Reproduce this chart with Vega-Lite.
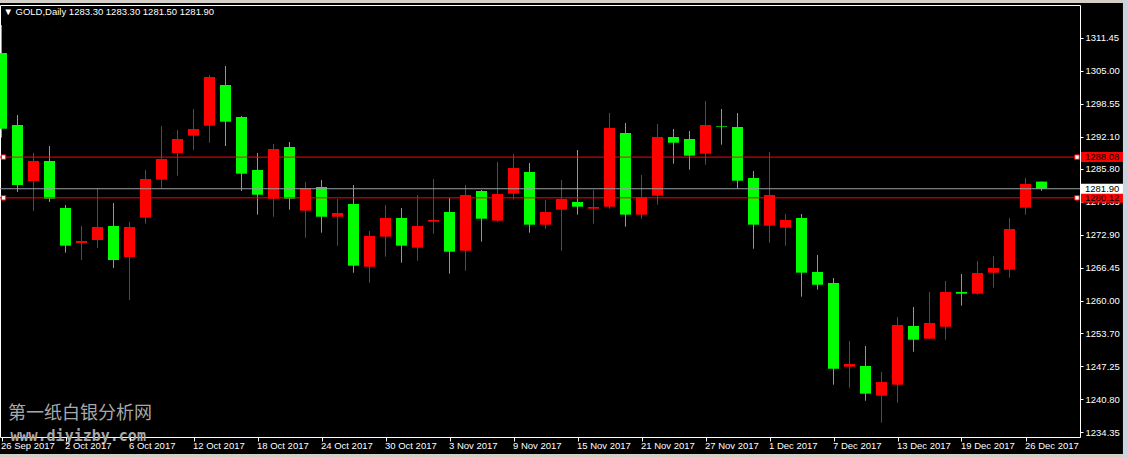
{
  "$schema": "https://vega.github.io/schema/vega-lite/v6.json",
  "width": 1080,
  "height": 432,
  "autosize": {"type": "none"},
  "padding": {"left": 0, "top": 5, "right": 48, "bottom": 20},
  "background": "#000000",
  "config": {
    "view": {"stroke": "#ffffff", "strokeWidth": 1, "fill": "#000000"},
    "font": "Liberation Sans",
    "scale": {"continuousPadding": 0},
    "axis": {"title": null, "grid": false, "domain": false}
  },
  "datasets": {
    "candles": [
      {"i": 0, "date": "2017-09-26", "open": 1308.43, "high": 1313.9, "low": 1291.87, "close": 1293.63},
      {"i": 1, "date": "2017-09-27", "open": 1294.36, "high": 1296.31, "low": 1281.26, "close": 1282.63},
      {"i": 2, "date": "2017-09-28", "open": 1283.41, "high": 1288.89, "low": 1277.55, "close": 1287.32},
      {"i": 3, "date": "2017-09-29", "open": 1287.32, "high": 1290.25, "low": 1279.31, "close": 1279.95},
      {"i": 4, "date": "2017-10-02", "open": 1278.14, "high": 1278.72, "low": 1269.40, "close": 1270.77},
      {"i": 5, "date": "2017-10-03", "open": 1271.29, "high": 1274.62, "low": 1267.97, "close": 1271.69},
      {"i": 6, "date": "2017-10-04", "open": 1271.88, "high": 1282.04, "low": 1270.32, "close": 1274.42},
      {"i": 7, "date": "2017-10-05", "open": 1274.62, "high": 1279.11, "low": 1266.41, "close": 1267.97},
      {"i": 8, "date": "2017-10-06", "open": 1268.56, "high": 1275.40, "low": 1260.15, "close": 1274.42},
      {"i": 9, "date": "2017-10-09", "open": 1276.24, "high": 1285.56, "low": 1275.07, "close": 1283.80},
      {"i": 10, "date": "2017-10-10", "open": 1283.67, "high": 1294.16, "low": 1281.91, "close": 1287.71},
      {"i": 11, "date": "2017-10-11", "open": 1288.89, "high": 1293.38, "low": 1284.45, "close": 1291.62},
      {"i": 12, "date": "2017-10-12", "open": 1292.27, "high": 1297.49, "low": 1289.47, "close": 1293.58},
      {"i": 13, "date": "2017-10-13", "open": 1294.22, "high": 1304.13, "low": 1290.90, "close": 1303.74},
      {"i": 14, "date": "2017-10-16", "open": 1302.18, "high": 1305.89, "low": 1290.25, "close": 1295.00},
      {"i": 15, "date": "2017-10-17", "open": 1295.92, "high": 1296.12, "low": 1281.46, "close": 1284.84},
      {"i": 16, "date": "2017-10-18", "open": 1285.56, "high": 1288.89, "low": 1276.83, "close": 1280.73},
      {"i": 17, "date": "2017-10-19", "open": 1279.95, "high": 1290.65, "low": 1276.43, "close": 1289.67},
      {"i": 18, "date": "2017-10-20", "open": 1290.06, "high": 1291.04, "low": 1277.80, "close": 1279.95},
      {"i": 19, "date": "2017-10-23", "open": 1277.61, "high": 1283.22, "low": 1272.33, "close": 1282.04},
      {"i": 20, "date": "2017-10-24", "open": 1282.24, "high": 1283.61, "low": 1273.31, "close": 1276.43},
      {"i": 21, "date": "2017-10-25", "open": 1276.43, "high": 1279.89, "low": 1270.77, "close": 1277.16},
      {"i": 22, "date": "2017-10-26", "open": 1278.92, "high": 1282.63, "low": 1265.49, "close": 1266.86},
      {"i": 23, "date": "2017-10-27", "open": 1266.66, "high": 1273.64, "low": 1263.53, "close": 1272.66},
      {"i": 24, "date": "2017-10-30", "open": 1272.53, "high": 1278.72, "low": 1268.62, "close": 1276.18},
      {"i": 25, "date": "2017-10-31", "open": 1276.18, "high": 1278.14, "low": 1267.44, "close": 1270.77},
      {"i": 26, "date": "2017-11-01", "open": 1270.38, "high": 1280.68, "low": 1267.83, "close": 1274.62},
      {"i": 27, "date": "2017-11-02", "open": 1275.46, "high": 1283.80, "low": 1273.11, "close": 1275.79},
      {"i": 28, "date": "2017-11-03", "open": 1277.35, "high": 1280.09, "low": 1265.29, "close": 1269.59},
      {"i": 29, "date": "2017-11-06", "open": 1269.79, "high": 1282.63, "low": 1265.88, "close": 1280.68},
      {"i": 30, "date": "2017-11-07", "open": 1281.46, "high": 1281.65, "low": 1271.55, "close": 1276.04},
      {"i": 31, "date": "2017-11-08", "open": 1275.65, "high": 1287.13, "low": 1275.46, "close": 1280.87},
      {"i": 32, "date": "2017-11-09", "open": 1280.93, "high": 1288.69, "low": 1279.76, "close": 1285.95},
      {"i": 33, "date": "2017-11-10", "open": 1285.17, "high": 1286.93, "low": 1273.31, "close": 1274.87},
      {"i": 34, "date": "2017-11-13", "open": 1274.87, "high": 1279.70, "low": 1274.09, "close": 1277.35},
      {"i": 35, "date": "2017-11-14", "open": 1277.80, "high": 1283.61, "low": 1269.79, "close": 1279.89},
      {"i": 36, "date": "2017-11-15", "open": 1279.31, "high": 1289.47, "low": 1276.83, "close": 1278.39},
      {"i": 37, "date": "2017-11-16", "open": 1278.00, "high": 1281.65, "low": 1275.07, "close": 1278.33},
      {"i": 38, "date": "2017-11-17", "open": 1278.39, "high": 1296.70, "low": 1278.00, "close": 1293.77},
      {"i": 39, "date": "2017-11-20", "open": 1292.80, "high": 1294.75, "low": 1274.48, "close": 1276.83},
      {"i": 40, "date": "2017-11-21", "open": 1276.83, "high": 1284.59, "low": 1276.04, "close": 1280.29},
      {"i": 41, "date": "2017-11-22", "open": 1280.54, "high": 1294.55, "low": 1278.78, "close": 1292.01},
      {"i": 42, "date": "2017-11-23", "open": 1292.01, "high": 1293.58, "low": 1286.80, "close": 1290.90},
      {"i": 43, "date": "2017-11-24", "open": 1291.62, "high": 1293.19, "low": 1285.62, "close": 1288.36},
      {"i": 44, "date": "2017-11-27", "open": 1288.75, "high": 1299.05, "low": 1286.60, "close": 1294.36},
      {"i": 45, "date": "2017-11-28", "open": 1294.16, "high": 1297.49, "low": 1290.51, "close": 1294.03},
      {"i": 46, "date": "2017-11-29", "open": 1293.97, "high": 1296.70, "low": 1281.91, "close": 1283.47},
      {"i": 47, "date": "2017-11-30", "open": 1284.00, "high": 1285.37, "low": 1270.18, "close": 1274.87},
      {"i": 48, "date": "2017-12-01", "open": 1274.68, "high": 1289.08, "low": 1271.35, "close": 1280.68},
      {"i": 49, "date": "2017-12-04", "open": 1274.28, "high": 1276.96, "low": 1270.77, "close": 1275.79},
      {"i": 50, "date": "2017-12-05", "open": 1276.18, "high": 1276.96, "low": 1260.80, "close": 1265.49},
      {"i": 51, "date": "2017-12-06", "open": 1265.63, "high": 1268.95, "low": 1262.17, "close": 1263.14},
      {"i": 52, "date": "2017-12-07", "open": 1263.47, "high": 1264.45, "low": 1243.60, "close": 1246.72},
      {"i": 53, "date": "2017-12-08", "open": 1247.11, "high": 1252.14, "low": 1243.01, "close": 1247.64},
      {"i": 54, "date": "2017-12-11", "open": 1247.25, "high": 1251.16, "low": 1240.47, "close": 1241.84},
      {"i": 55, "date": "2017-12-12", "open": 1241.45, "high": 1246.08, "low": 1236.20, "close": 1244.12},
      {"i": 56, "date": "2017-12-13", "open": 1243.60, "high": 1256.83, "low": 1240.08, "close": 1255.27},
      {"i": 57, "date": "2017-12-14", "open": 1255.07, "high": 1258.78, "low": 1250.05, "close": 1252.39},
      {"i": 58, "date": "2017-12-15", "open": 1252.59, "high": 1261.72, "low": 1252.53, "close": 1255.66},
      {"i": 59, "date": "2017-12-18", "open": 1254.93, "high": 1263.87, "low": 1252.39, "close": 1261.72},
      {"i": 60, "date": "2017-12-19", "open": 1261.72, "high": 1265.23, "low": 1259.04, "close": 1261.38},
      {"i": 61, "date": "2017-12-20", "open": 1261.38, "high": 1267.78, "low": 1261.19, "close": 1265.43},
      {"i": 62, "date": "2017-12-21", "open": 1265.49, "high": 1268.75, "low": 1262.56, "close": 1266.41},
      {"i": 63, "date": "2017-12-22", "open": 1266.07, "high": 1276.18, "low": 1264.51, "close": 1274.03},
      {"i": 64, "date": "2017-12-26", "open": 1278.19, "high": 1284.00, "low": 1276.83, "close": 1282.83},
      {"i": 65, "date": "2017-12-27", "open": 1283.30, "high": 1283.30, "low": 1281.50, "close": 1281.90}
    ],
    "levels": [
      {"price": 1288.08, "type": "line", "label": "1288.08"},
      {"price": 1280.12, "type": "line", "label": "1280.12"},
      {"price": 1281.90, "type": "bid", "label": "1281.90"}
    ],
    "captions": [
      {"text": "▼ GOLD,Daily  1283.30 1283.30 1281.50 1281.90"}
    ],
    "chrome": [
      {"part": "top", "x0": -0.2, "x1": 70.5, "y0": 1318.9, "y1": 1318.2},
      {"part": "bottom", "x0": -0.2, "x1": 70.5, "y0": 1230.05, "y1": 1229.3},
      {"part": "right", "x0": 70.09, "x1": 70.5, "y0": 1318.9, "y1": 1229.3}
    ]
  },
  "layer": [
    {
      "data": {"name": "candles"},
      "mark": {"type": "rule", "strokeWidth": 1},
      "encoding": {
        "x": {
          "field": "i", "type": "quantitative",
          "scale": {"domain": [-0.09375, 67.40625], "nice": false, "zero": false, "padding": 0},
          "axis": {
            "orient": "bottom", "title": null, "grid": false, "domain": false,
            "values": [0, 4, 8, 12, 16, 20, 24, 28, 32, 36, 40, 44, 48, 52, 56, 60, 64],
            "tickCount": 40,
            "labelExpr": "['26 Sep 2017','2 Oct 2017','6 Oct 2017','12 Oct 2017','18 Oct 2017','24 Oct 2017','30 Oct 2017','3 Nov 2017','9 Nov 2017','15 Nov 2017','21 Nov 2017','27 Nov 2017','1 Dec 2017','7 Dec 2017','13 Dec 2017','19 Dec 2017','26 Dec 2017'][round(datum.value/4)]",
            "labelAlign": "left", "labelBaseline": "top", "labelPadding": -1, "labelOffset": -1,
            "labelColor": "#ffffff", "labelFont": "Liberation Sans", "labelFontSize": 9.5,
            "labelFlush": false, "labelOverlap": false, "labelBound": false,
            "tickColor": "#ffffff", "tickSize": 4, "tickWidth": 1, "zindex": 1
          }
        },
        "y": {
          "field": "low", "type": "quantitative",
          "scale": {"domain": [1233.373, 1317.814], "nice": false, "zero": false},
          "axis": {
            "orient": "right", "title": null, "grid": false, "domain": false,
            "values": [1234.35, 1240.80, 1247.25, 1253.70, 1260.00, 1266.45, 1272.90, 1279.35, 1285.80, 1292.10, 1298.55, 1305.00, 1311.45],
            "tickCount": 40,
            "format": ".2f", "labelColor": "#ffffff", "labelFont": "Liberation Sans", "labelFontSize": 9.5,
            "labelPadding": 2, "labelBaseline": "middle", "labelFlush": false, "labelOverlap": false,
            "tickColor": "#ffffff", "tickSize": 3, "tickWidth": 1, "zindex": 0
          }
        },
        "y2": {"field": "high"},
        "color": {"condition": {"test": "datum.close >= datum.open", "value": "#ff0000"}, "value": "#00ff00"}
      }
    },
    {
      "data": {"name": "candles"},
      "mark": {"type": "bar", "width": 11},
      "encoding": {
        "x": {"field": "i", "type": "quantitative", "scale": {"domain": [-0.09375, 67.40625], "nice": false, "zero": false, "padding": 0}},
        "y": {"field": "open", "type": "quantitative", "scale": {"domain": [1233.373, 1317.814], "nice": false, "zero": false}},
        "y2": {"field": "close"},
        "color": {"condition": {"test": "datum.close >= datum.open", "value": "#ff0000"}, "value": "#00ff00"}
      }
    },
    {
      "data": {"name": "levels"},
      "mark": {"type": "rule", "strokeWidth": 1},
      "encoding": {
        "y": {"field": "price", "type": "quantitative", "scale": {"domain": [1233.373, 1317.814], "nice": false, "zero": false}},
        "color": {"condition": {"test": "datum.type == 'bid'", "value": "#9aa0a6"}, "value": "#ff0000"}
      }
    },
    {
      "data": {"name": "levels"},
      "mark": {"type": "tick", "orient": "horizontal", "size": 42, "thickness": 10, "opacity": 1},
      "encoding": {
        "x": {"datum": 68.78, "type": "quantitative", "scale": {"domain": [-0.09375, 67.40625], "nice": false, "zero": false, "padding": 0}},
        "y": {"field": "price", "type": "quantitative", "scale": {"domain": [1233.373, 1317.814], "nice": false, "zero": false}},
        "color": {"condition": {"test": "datum.type == 'bid'", "value": "#ffffff"}, "value": "#ff0000"}
      }
    },
    {
      "data": {"name": "levels"},
      "mark": {"type": "text", "align": "left", "baseline": "middle", "font": "Liberation Sans", "fontSize": 9.5, "color": "#000000"},
      "encoding": {
        "x": {"datum": 67.72, "type": "quantitative", "scale": {"domain": [-0.09375, 67.40625], "nice": false, "zero": false, "padding": 0}},
        "y": {"field": "price", "type": "quantitative", "scale": {"domain": [1233.373, 1317.814], "nice": false, "zero": false}},
        "text": {"field": "label"}
      }
    },
    {
      "data": {"name": "levels"},
      "transform": [{"filter": "datum.type == 'line'"}],
      "mark": {"type": "point", "shape": "square", "size": 20, "filled": true, "fill": "#ffffff", "stroke": "#ff0000", "strokeWidth": 1, "opacity": 1},
      "encoding": {
        "x": {"datum": 0.125, "type": "quantitative", "scale": {"domain": [-0.09375, 67.40625], "nice": false, "zero": false, "padding": 0}},
        "y": {"field": "price", "type": "quantitative", "scale": {"domain": [1233.373, 1317.814], "nice": false, "zero": false}}
      }
    },
    {
      "data": {"name": "levels"},
      "transform": [{"filter": "datum.type == 'line'"}],
      "mark": {"type": "point", "shape": "square", "size": 20, "filled": true, "fill": "#ffffff", "stroke": "#ff0000", "strokeWidth": 1, "opacity": 1},
      "encoding": {
        "x": {"datum": 67.22, "type": "quantitative", "scale": {"domain": [-0.09375, 67.40625], "nice": false, "zero": false, "padding": 0}},
        "y": {"field": "price", "type": "quantitative", "scale": {"domain": [1233.373, 1317.814], "nice": false, "zero": false}}
      }
    },
    {
      "data": {"name": "captions"},
      "mark": {"type": "text", "align": "left", "baseline": "middle", "font": "Liberation Sans", "fontSize": 9.5, "color": "#ffffff"},
      "encoding": {
        "x": {"datum": 0.125, "type": "quantitative", "scale": {"domain": [-0.09375, 67.40625], "nice": false, "zero": false, "padding": 0}},
        "y": {"datum": 1316.45, "type": "quantitative", "scale": {"domain": [1233.373, 1317.814], "nice": false, "zero": false}},
        "text": {"field": "text"}
      }
    },
    {
      "data": {"values": [{"text": "第一纸白银分析网"}]},
      "mark": {"type": "text", "align": "left", "baseline": "middle", "font": "Noto Sans CJK SC", "fontSize": 18, "color": "#a8a8a8"},
      "encoding": {
        "x": {"datum": 0.4, "type": "quantitative", "scale": {"domain": [-0.09375, 67.40625], "nice": false, "zero": false, "padding": 0}},
        "y": {"datum": 1237.85, "type": "quantitative", "scale": {"domain": [1233.373, 1317.814], "nice": false, "zero": false}},
        "text": {"field": "text"}
      }
    },
    {
      "data": {"values": [{"text": "www.diyizby.com"}]},
      "mark": {"type": "text", "align": "left", "baseline": "middle", "font": "DejaVu Sans Mono", "fontWeight": "bold", "fontSize": 15, "color": "#a8a8a8"},
      "encoding": {
        "x": {"datum": 0.56, "type": "quantitative", "scale": {"domain": [-0.09375, 67.40625], "nice": false, "zero": false, "padding": 0}},
        "y": {"datum": 1233.55, "type": "quantitative", "scale": {"domain": [1233.373, 1317.814], "nice": false, "zero": false}},
        "text": {"field": "text"}
      }
    },
    {
      "data": {"name": "chrome"},
      "mark": {"type": "rect", "clip": false},
      "encoding": {
        "x": {"field": "x0", "type": "quantitative", "scale": {"domain": [-0.09375, 67.40625], "nice": false, "zero": false, "padding": 0}},
        "x2": {"field": "x1"},
        "y": {"field": "y0", "type": "quantitative", "scale": {"domain": [1233.373, 1317.814], "nice": false, "zero": false}},
        "y2": {"field": "y1"},
        "color": {"condition": {"test": "datum.part == 'right'", "value": "#c9d4e0"}, "value": "#d4d0c8"}
      }
    }
  ]
}
